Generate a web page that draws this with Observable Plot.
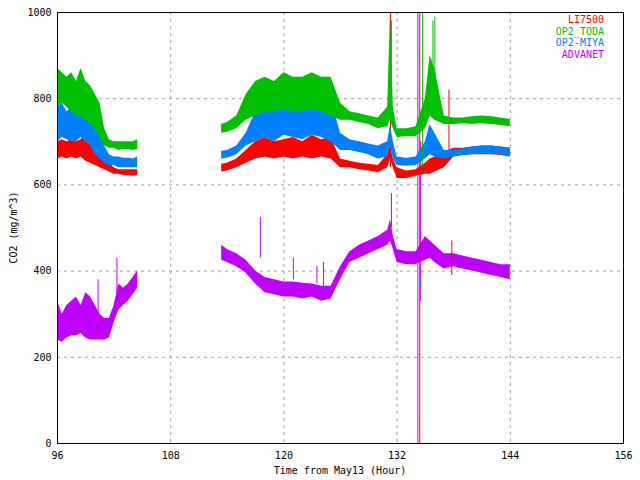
<!DOCTYPE html>
<html><head><meta charset="utf-8">
<script src="https://cdn.jsdelivr.net/npm/d3@7"></script>
<script src="https://cdn.jsdelivr.net/npm/@observablehq/plot@0.6"></script>
<style>body{margin:0;background:#fff}#c{position:relative;width:640px;height:480px;font:10px "DejaVu Sans Mono"}
#lg{position:absolute;right:36px;top:14px;text-align:right;line-height:11.5px}
#xl{position:absolute;left:57px;width:566px;top:465px;text-align:center}
#yl{position:absolute;left:-42px;top:222px;width:110px;text-align:center;transform:rotate(-90deg)}
</style></head><body><div id="c"><div id="lg"></div><div id="xl">Time from May13 (Hour)</div><div id="yl">CO2 (mg/m^3)</div></div>
<script>
const seriesNames = ["LI7500","OP2_TODA","OP2-MIYA","ADVANET"];
const seriesColors = ["#ff0000","#00c000","#0080ff","#c000ff"];
// segment 1 (hours), low/high envelopes
const t1 = [96,96.5,97,97.5,98,98.5,99,99.5,100,100.5,101,101.5,102,102.5,103,103.5,104,104.5];
const red1lo = [660,665,660,665,660,665,655,650,645,640,635,630,625,625,622,622,620,622];
const red1hi = [700,705,700,705,700,705,720,705,700,690,665,650,640,635,635,635,635,635];
const grn1lo = [780,790,780,770,760,760,750,740,730,710,690,685,685,680,682,682,680,682];
const grn1hi = [870,860,850,860,840,870,840,830,810,790,730,705,700,700,700,700,700,705];
const blu1lo = [700,710,705,700,700,710,700,690,670,660,650,645,645,640,640,640,640,640];
const blu1hi = [780,790,770,780,770,790,800,760,740,720,690,670,665,665,662,662,660,665];
const pur1lo = [240,235,245,250,250,255,245,240,240,240,240,245,280,310,320,330,345,360];
const pur1hi = [330,300,320,330,340,320,350,340,320,300,290,290,320,370,360,370,385,400];
// segment 2
const t2 = [113.4,114,115,116,117,118,119,120,121,122,123,124,125,126,127,128,129,130,131,131.3,131.6,132,133,134,135,135.5,136,137,138,139,140,141,142,143,144];
const red2lo = [630,632,640,650,660,665,660,665,660,665,660,665,660,640,640,635,632,628,640,660,640,615,615,620,625,625,630,640,665,668,670,670,670,668,665];
const red2hi = [648,650,660,680,700,710,700,705,710,700,715,705,710,660,655,650,648,645,670,690,660,640,632,635,650,660,665,675,685,685,688,690,690,688,685];
const grn2lo = [720,722,730,750,760,770,770,775,770,770,775,770,760,750,750,745,740,730,735,750,730,710,712,712,730,760,750,740,740,742,740,742,740,738,735];
const grn2hi = [740,745,760,810,840,850,840,860,850,850,860,850,850,790,770,765,760,755,780,1000,780,730,730,735,800,900,870,760,755,755,758,760,758,755,752];
const blu2lo = [660,662,670,690,700,710,700,715,710,705,715,710,700,680,680,675,670,660,665,690,660,645,643,645,660,670,665,660,665,668,670,672,672,670,665];
const blu2hi = [678,680,690,720,770,790,780,800,790,790,810,790,800,720,705,700,695,690,700,740,700,665,662,665,700,740,720,680,680,684,688,690,690,688,685];
const pur2lo = [425,420,410,395,370,350,345,340,340,335,340,330,335,380,420,430,440,450,460,470,450,420,415,415,425,430,420,405,410,405,400,395,390,385,380];
const pur2hi = [460,450,440,425,400,385,380,375,375,372,370,365,365,410,445,460,470,480,495,520,480,450,445,445,480,470,460,440,440,435,430,425,420,415,415];
// isolated spikes: hour, low, high, series index
const spikeT = [131.3,131.4,134.2,134.4,134.5,134.5,134.7,135.8,136,137.5,137.8,100.3,102.3,117.5,121,123.5,124.2,131.4];
const spikeLo = [640,850,0,0,330,360,640,760,790,660,390,300,330,430,380,370,340,500];
const spikeHi = [1000,980,1000,1000,700,380,1000,980,990,820,470,380,430,525,430,410,420,580];
const spikeS = [0,1,3,0,3,2,1,1,1,0,0,3,3,3,3,3,3,3];

const rows = [];
function add(t, lo, hi, s, seg){ t.forEach((x,i)=>rows.push({t:x,lo:lo[i],hi:hi[i],s,seg:seg+s})); }
[[red1lo,red1hi],[grn1lo,grn1hi],[blu1lo,blu1hi],[pur1lo,pur1hi]].forEach((p,s)=>add(t1,p[0],p[1],s,"a"));
[[red2lo,red2hi],[grn2lo,grn2hi],[blu2lo,blu2hi],[pur2lo,pur2hi]].forEach((p,s)=>add(t2,p[0],p[1],s,"b"));
const spikes = spikeT.map((t,i)=>({t,lo:spikeLo[i],hi:spikeHi[i],s:spikeS[i]}));
const order = [3,0,2,1];
const layers = [];
for (const s of order) {
  layers.push(Plot.areaY(rows.filter(d=>d.s===s),{x:"t",y1:"lo",y2:"hi",z:"seg",fill:seriesColors[s],curve:"linear"}));
  layers.push(Plot.ruleX(spikes.filter(d=>d.s===s),{x:"t",y1:"lo",y2:"hi",stroke:seriesColors[s],strokeWidth:1}));
}
const xTicks=[96,108,120,132,144,156], yTicks=[0,200,400,600,800,1000];
const plot = Plot.plot({
  width:640,height:480,marginLeft:57,marginRight:17,marginTop:12,marginBottom:37,
  style:{fontFamily:"DejaVu Sans Mono",fontSize:"10px",color:"#000",background:"#fff"},
  x:{domain:[96,156],ticks:xTicks,label:null,tickSize:0,tickPadding:8,tickFormat:d=>String(d)},
  y:{domain:[0,1000],ticks:yTicks,label:null,tickSize:0,tickPadding:6,tickFormat:d=>String(d)},
  marks:[
    Plot.gridX(xTicks,{stroke:"#a0a0a0",strokeOpacity:1,strokeDasharray:"3,4"}),
    Plot.gridY(yTicks,{stroke:"#a0a0a0",strokeOpacity:1,strokeDasharray:"3,4"}),
    ...layers,
    Plot.frame({stroke:"#000"})
  ]
});
document.getElementById("c").prepend(plot);
document.getElementById("lg").innerHTML = seriesNames.map((n,i)=>`<div style="color:${seriesColors[i]}">${n}</div>`).join("");
</script></body></html>
